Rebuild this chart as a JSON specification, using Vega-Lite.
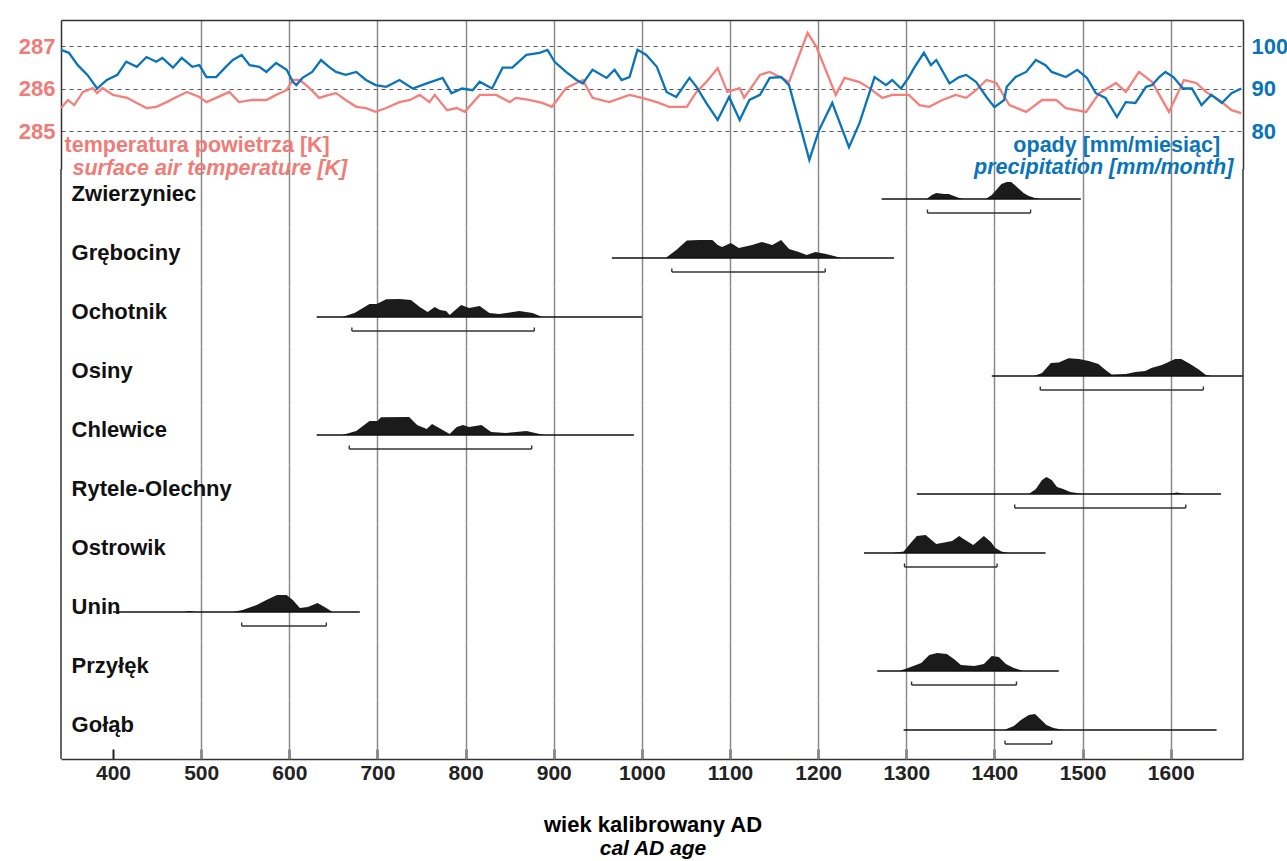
{
  "$schema": "https://vega.github.io/schema/vega-lite/v6.json",
  "padding": {"left": 18, "top": 20, "right": 0, "bottom": 0},
  "background": "white",
  "config": {"font": "Liberation Sans", "view": {"stroke": null}},
  "title": {"text": "wiek kalibrowany AD", "subtitle": "cal AD age", "orient": "bottom", "anchor": "middle", "fontSize": 22, "fontWeight": "bold", "color": "black", "subtitleFontSize": 21, "subtitleFontWeight": "bold", "subtitleFontStyle": "italic", "subtitleColor": "black", "subtitlePadding": 1, "offset": 32},
  "spacing": 0,
  "bounds": "flush",
  "resolve": {"scale": {"x": "independent", "y": "independent"}},
  "datasets": {
    "temperature": [
      {"year":341,"temp":285.54},{"year":349,"temp":285.73},{"year":356,"temp":285.61},{"year":366,"temp":285.92},{"year":377,"temp":286.01},{"year":382,"temp":285.89},{"year":388,"temp":286.01},{"year":400,"temp":285.85},{"year":416,"temp":285.78},{"year":427,"temp":285.66},{"year":438,"temp":285.54},{"year":449,"temp":285.57},{"year":461,"temp":285.68},{"year":472,"temp":285.80},{"year":484,"temp":285.92},{"year":498,"temp":285.80},{"year":506,"temp":285.68},{"year":517,"temp":285.78},{"year":532,"temp":285.92},{"year":543,"temp":285.68},{"year":558,"temp":285.73},{"year":574,"temp":285.73},{"year":585,"temp":285.85},{"year":597,"temp":285.96},{"year":604,"temp":286.20},{"year":612,"temp":286.20},{"year":623,"temp":286.01},{"year":634,"temp":285.78},{"year":645,"temp":285.85},{"year":653,"temp":285.89},{"year":664,"temp":285.73},{"year":676,"temp":285.57},{"year":687,"temp":285.54},{"year":698,"temp":285.45},{"year":710,"temp":285.54},{"year":725,"temp":285.68},{"year":737,"temp":285.73},{"year":748,"temp":285.85},{"year":759,"temp":285.68},{"year":765,"temp":285.85},{"year":779,"temp":285.49},{"year":790,"temp":285.54},{"year":799,"temp":285.45},{"year":816,"temp":285.85},{"year":835,"temp":285.85},{"year":850,"temp":285.68},{"year":857,"temp":285.78},{"year":872,"temp":285.73},{"year":887,"temp":285.66},{"year":898,"temp":285.57},{"year":914,"temp":286.01},{"year":926,"temp":286.13},{"year":933,"temp":286.20},{"year":944,"temp":285.78},{"year":963,"temp":285.68},{"year":986,"temp":285.85},{"year":1000,"temp":285.78},{"year":1017,"temp":285.68},{"year":1031,"temp":285.57},{"year":1051,"temp":285.57},{"year":1062,"temp":285.92},{"year":1073,"temp":286.15},{"year":1086,"temp":286.48},{"year":1097,"temp":285.92},{"year":1111,"temp":286.01},{"year":1116,"temp":285.78},{"year":1134,"temp":286.32},{"year":1145,"temp":286.39},{"year":1157,"temp":286.27},{"year":1167,"temp":286.15},{"year":1188,"temp":287.31},{"year":1198,"temp":286.98},{"year":1220,"temp":285.85},{"year":1230,"temp":286.25},{"year":1247,"temp":286.15},{"year":1258,"temp":286.01},{"year":1273,"temp":285.78},{"year":1284,"temp":285.85},{"year":1303,"temp":285.85},{"year":1315,"temp":285.61},{"year":1326,"temp":285.57},{"year":1341,"temp":285.73},{"year":1356,"temp":285.85},{"year":1368,"temp":285.78},{"year":1379,"temp":285.96},{"year":1391,"temp":286.20},{"year":1402,"temp":286.13},{"year":1417,"temp":285.61},{"year":1436,"temp":285.45},{"year":1454,"temp":285.73},{"year":1470,"temp":285.73},{"year":1481,"temp":285.54},{"year":1504,"temp":285.45},{"year":1519,"temp":285.89},{"year":1538,"temp":286.13},{"year":1549,"temp":285.92},{"year":1564,"temp":286.39},{"year":1579,"temp":286.15},{"year":1598,"temp":285.45},{"year":1615,"temp":286.20},{"year":1629,"temp":286.13},{"year":1640,"temp":285.92},{"year":1655,"temp":285.73},{"year":1669,"temp":285.49},{"year":1680,"temp":285.42}
    ],
    "precipitation": [
      {"year":341,"precip":99.1},{"year":350,"precip":98.4},{"year":360,"precip":95.5},{"year":371,"precip":93.2},{"year":382,"precip":90.0},{"year":393,"precip":92.0},{"year":405,"precip":93.2},{"year":415,"precip":96.3},{"year":427,"precip":95.1},{"year":438,"precip":97.4},{"year":449,"precip":96.3},{"year":456,"precip":97.2},{"year":468,"precip":94.9},{"year":478,"precip":97.2},{"year":490,"precip":95.1},{"year":498,"precip":95.5},{"year":506,"precip":92.7},{"year":517,"precip":92.7},{"year":528,"precip":95.1},{"year":536,"precip":96.7},{"year":546,"precip":97.9},{"year":555,"precip":95.5},{"year":566,"precip":95.1},{"year":574,"precip":93.9},{"year":585,"precip":96.0},{"year":597,"precip":94.4},{"year":604,"precip":91.6},{"year":608,"precip":90.8},{"year":615,"precip":92.5},{"year":626,"precip":93.9},{"year":636,"precip":96.7},{"year":645,"precip":95.1},{"year":653,"precip":93.9},{"year":664,"precip":93.2},{"year":676,"precip":93.9},{"year":687,"precip":92.0},{"year":698,"precip":90.8},{"year":710,"precip":90.4},{"year":725,"precip":92.0},{"year":740,"precip":90.0},{"year":756,"precip":91.2},{"year":774,"precip":92.5},{"year":784,"precip":88.9},{"year":796,"precip":90.0},{"year":808,"precip":89.6},{"year":816,"precip":91.6},{"year":830,"precip":90.0},{"year":842,"precip":94.9},{"year":853,"precip":94.9},{"year":869,"precip":97.9},{"year":884,"precip":98.4},{"year":893,"precip":99.1},{"year":901,"precip":96.3},{"year":914,"precip":93.9},{"year":926,"precip":92.0},{"year":933,"precip":91.2},{"year":944,"precip":94.4},{"year":960,"precip":92.5},{"year":969,"precip":94.4},{"year":977,"precip":92.0},{"year":986,"precip":92.7},{"year":995,"precip":99.1},{"year":1005,"precip":97.9},{"year":1017,"precip":95.1},{"year":1028,"precip":89.2},{"year":1039,"precip":88.0},{"year":1054,"precip":92.5},{"year":1062,"precip":90.4},{"year":1073,"precip":86.6},{"year":1086,"precip":82.6},{"year":1099,"precip":88.0},{"year":1111,"precip":82.6},{"year":1122,"precip":87.3},{"year":1134,"precip":88.5},{"year":1145,"precip":92.5},{"year":1158,"precip":92.7},{"year":1167,"precip":90.8},{"year":1190,"precip":73.2},{"year":1201,"precip":80.2},{"year":1216,"precip":86.6},{"year":1235,"precip":76.2},{"year":1247,"precip":81.9},{"year":1264,"precip":92.7},{"year":1277,"precip":90.8},{"year":1284,"precip":92.0},{"year":1294,"precip":90.0},{"year":1303,"precip":92.7},{"year":1309,"precip":94.9},{"year":1320,"precip":98.4},{"year":1328,"precip":95.5},{"year":1334,"precip":96.7},{"year":1349,"precip":91.2},{"year":1360,"precip":92.7},{"year":1368,"precip":93.2},{"year":1379,"precip":91.6},{"year":1391,"precip":88.0},{"year":1400,"precip":85.6},{"year":1411,"precip":87.3},{"year":1414,"precip":90.4},{"year":1424,"precip":92.7},{"year":1436,"precip":93.9},{"year":1447,"precip":96.7},{"year":1458,"precip":95.5},{"year":1465,"precip":93.9},{"year":1481,"precip":92.7},{"year":1494,"precip":94.4},{"year":1505,"precip":92.5},{"year":1515,"precip":88.9},{"year":1526,"precip":87.8},{"year":1539,"precip":83.3},{"year":1549,"precip":86.8},{"year":1560,"precip":86.6},{"year":1572,"precip":90.4},{"year":1579,"precip":90.8},{"year":1587,"precip":92.7},{"year":1594,"precip":93.9},{"year":1603,"precip":92.7},{"year":1614,"precip":90.0},{"year":1624,"precip":90.0},{"year":1635,"precip":86.1},{"year":1646,"precip":88.5},{"year":1658,"precip":86.6},{"year":1669,"precip":88.9},{"year":1680,"precip":90.0}
    ],
    "radiocarbon": [
      {"site":"Zwierzyniec","start":1272,"end":1498,"lo":1324,"hi":1441},
      {"site":"Grębociny","start":966,"end":1286,"lo":1034,"hi":1208},
      {"site":"Ochotnik","start":631,"end":1000,"lo":671,"hi":878},
      {"site":"Osiny","start":1397,"end":1682,"lo":1452,"hi":1637},
      {"site":"Chlewice","start":631,"end":991,"lo":668,"hi":875},
      {"site":"Rytele-Olechny","start":1312,"end":1657,"lo":1423,"hi":1617},
      {"site":"Ostrowik","start":1252,"end":1458,"lo":1298,"hi":1403},
      {"site":"Unin","start":400,"end":680,"lo":546,"hi":642},
      {"site":"Przyłęk","start":1267,"end":1473,"lo":1306,"hi":1425},
      {"site":"Gołąb","start":1297,"end":1652,"lo":1412,"hi":1465},
      {"site":"Zwierzyniec","year":1323,"p":0},{"site":"Zwierzyniec","year":1329,"p":4},{"site":"Zwierzyniec","year":1334,"p":6},{"site":"Zwierzyniec","year":1343,"p":5},{"site":"Zwierzyniec","year":1348,"p":5},{"site":"Zwierzyniec","year":1354,"p":3},{"site":"Zwierzyniec","year":1360,"p":1},{"site":"Zwierzyniec","year":1365,"p":0},{"site":"Zwierzyniec","year":1390,"p":0},{"site":"Zwierzyniec","year":1397,"p":4},{"site":"Zwierzyniec","year":1403,"p":10},{"site":"Zwierzyniec","year":1408,"p":15},{"site":"Zwierzyniec","year":1414,"p":17},{"site":"Zwierzyniec","year":1419,"p":17},{"site":"Zwierzyniec","year":1423,"p":14},{"site":"Zwierzyniec","year":1428,"p":10},{"site":"Zwierzyniec","year":1433,"p":6},{"site":"Zwierzyniec","year":1439,"p":3},{"site":"Zwierzyniec","year":1446,"p":1},{"site":"Zwierzyniec","year":1452,"p":0},
      {"site":"Grębociny","year":1027,"p":0},{"site":"Grębociny","year":1039,"p":8},{"site":"Grębociny","year":1051,"p":17.5},{"site":"Grębociny","year":1065,"p":18},{"site":"Grębociny","year":1080,"p":18},{"site":"Grębociny","year":1086,"p":13},{"site":"Grębociny","year":1091,"p":11},{"site":"Grębociny","year":1101,"p":15},{"site":"Grębociny","year":1110,"p":10},{"site":"Grębociny","year":1125,"p":13},{"site":"Grębociny","year":1136,"p":16},{"site":"Grębociny","year":1148,"p":13},{"site":"Grębociny","year":1158,"p":18},{"site":"Grębociny","year":1167,"p":9},{"site":"Grębociny","year":1178,"p":6},{"site":"Grębociny","year":1187,"p":3},{"site":"Grębociny","year":1197,"p":6},{"site":"Grębociny","year":1209,"p":4},{"site":"Grębociny","year":1220,"p":1.5},{"site":"Grębociny","year":1227,"p":0},
      {"site":"Ochotnik","year":660,"p":0},{"site":"Ochotnik","year":674,"p":4},{"site":"Ochotnik","year":691,"p":13},{"site":"Ochotnik","year":699,"p":13},{"site":"Ochotnik","year":710,"p":17.7},{"site":"Ochotnik","year":725,"p":18},{"site":"Ochotnik","year":738,"p":17},{"site":"Ochotnik","year":748,"p":10},{"site":"Ochotnik","year":757,"p":5},{"site":"Ochotnik","year":765,"p":10},{"site":"Ochotnik","year":771,"p":7},{"site":"Ochotnik","year":778,"p":6},{"site":"Ochotnik","year":782,"p":2},{"site":"Ochotnik","year":787,"p":6},{"site":"Ochotnik","year":795,"p":12},{"site":"Ochotnik","year":804,"p":9},{"site":"Ochotnik","year":816,"p":11},{"site":"Ochotnik","year":827,"p":4},{"site":"Ochotnik","year":838,"p":3},{"site":"Ochotnik","year":861,"p":6},{"site":"Ochotnik","year":876,"p":4},{"site":"Ochotnik","year":887,"p":0},
      {"site":"Osiny","year":1445,"p":0},{"site":"Osiny","year":1454,"p":3},{"site":"Osiny","year":1464,"p":13},{"site":"Osiny","year":1473,"p":13.5},{"site":"Osiny","year":1484,"p":17.7},{"site":"Osiny","year":1496,"p":17},{"site":"Osiny","year":1507,"p":15},{"site":"Osiny","year":1518,"p":12},{"site":"Osiny","year":1526,"p":6},{"site":"Osiny","year":1533,"p":1.5},{"site":"Osiny","year":1549,"p":2},{"site":"Osiny","year":1560,"p":4},{"site":"Osiny","year":1571,"p":5},{"site":"Osiny","year":1578,"p":8},{"site":"Osiny","year":1590,"p":11},{"site":"Osiny","year":1605,"p":17},{"site":"Osiny","year":1612,"p":17},{"site":"Osiny","year":1622,"p":12},{"site":"Osiny","year":1631,"p":7},{"site":"Osiny","year":1640,"p":1},{"site":"Osiny","year":1646,"p":0},
      {"site":"Chlewice","year":660,"p":0},{"site":"Chlewice","year":676,"p":4},{"site":"Chlewice","year":691,"p":14},{"site":"Chlewice","year":700,"p":14},{"site":"Chlewice","year":704,"p":17.7},{"site":"Chlewice","year":736,"p":18},{"site":"Chlewice","year":745,"p":10},{"site":"Chlewice","year":756,"p":6},{"site":"Chlewice","year":762,"p":11},{"site":"Chlewice","year":772,"p":6},{"site":"Chlewice","year":782,"p":1},{"site":"Chlewice","year":790,"p":8},{"site":"Chlewice","year":797,"p":10},{"site":"Chlewice","year":804,"p":8},{"site":"Chlewice","year":818,"p":10},{"site":"Chlewice","year":829,"p":3},{"site":"Chlewice","year":846,"p":2},{"site":"Chlewice","year":869,"p":4},{"site":"Chlewice","year":884,"p":1},{"site":"Chlewice","year":890,"p":0},
      {"site":"Rytele-Olechny","year":1439,"p":0},{"site":"Rytele-Olechny","year":1447,"p":5},{"site":"Rytele-Olechny","year":1454,"p":14},{"site":"Rytele-Olechny","year":1459,"p":17},{"site":"Rytele-Olechny","year":1465,"p":14},{"site":"Rytele-Olechny","year":1471,"p":7},{"site":"Rytele-Olechny","year":1478,"p":5},{"site":"Rytele-Olechny","year":1486,"p":2},{"site":"Rytele-Olechny","year":1501,"p":0},{"site":"Rytele-Olechny","year":1598,"p":0},{"site":"Rytele-Olechny","year":1607,"p":1.5},{"site":"Rytele-Olechny","year":1616,"p":0},
      {"site":"Ostrowik","year":1284,"p":0},{"site":"Ostrowik","year":1297,"p":1.5},{"site":"Ostrowik","year":1305,"p":10},{"site":"Ostrowik","year":1312,"p":17},{"site":"Ostrowik","year":1322,"p":18},{"site":"Ostrowik","year":1334,"p":9},{"site":"Ostrowik","year":1346,"p":11},{"site":"Ostrowik","year":1352,"p":12},{"site":"Ostrowik","year":1360,"p":17},{"site":"Ostrowik","year":1365,"p":14},{"site":"Ostrowik","year":1376,"p":8},{"site":"Ostrowik","year":1388,"p":17},{"site":"Ostrowik","year":1396,"p":11},{"site":"Ostrowik","year":1401,"p":5},{"site":"Ostrowik","year":1408,"p":1.5},{"site":"Ostrowik","year":1416,"p":0},
      {"site":"Unin","year":480,"p":0},{"site":"Unin","year":487,"p":1},{"site":"Unin","year":494,"p":0},{"site":"Unin","year":536,"p":0},{"site":"Unin","year":547,"p":2},{"site":"Unin","year":563,"p":7},{"site":"Unin","year":574,"p":12},{"site":"Unin","year":586,"p":17},{"site":"Unin","year":597,"p":17},{"site":"Unin","year":604,"p":12},{"site":"Unin","year":612,"p":4},{"site":"Unin","year":621,"p":5},{"site":"Unin","year":632,"p":9},{"site":"Unin","year":642,"p":4},{"site":"Unin","year":649,"p":0},
      {"site":"Przyłęk","year":1292,"p":0},{"site":"Przyłęk","year":1305,"p":4},{"site":"Przyłęk","year":1317,"p":8},{"site":"Przyłęk","year":1326,"p":16},{"site":"Przyłęk","year":1335,"p":18},{"site":"Przyłęk","year":1346,"p":17},{"site":"Przyłęk","year":1354,"p":12},{"site":"Przyłęk","year":1362,"p":6},{"site":"Przyłęk","year":1377,"p":5},{"site":"Przyłęk","year":1388,"p":7},{"site":"Przyłęk","year":1397,"p":15},{"site":"Przyłęk","year":1405,"p":14},{"site":"Przyłęk","year":1413,"p":7},{"site":"Przyłęk","year":1422,"p":3},{"site":"Przyłęk","year":1433,"p":0},
      {"site":"Gołąb","year":1411,"p":0},{"site":"Gołąb","year":1422,"p":4},{"site":"Gołąb","year":1430,"p":10},{"site":"Gołąb","year":1439,"p":15},{"site":"Gołąb","year":1446,"p":16},{"site":"Gołąb","year":1452,"p":11},{"site":"Gołąb","year":1459,"p":5},{"site":"Gołąb","year":1467,"p":2},{"site":"Gołąb","year":1479,"p":0}
    ]
  },
  "vconcat": [
    {
      "width": 1182,
      "height": 149,
      "layer": [
        {
          "layer": [
            {
              "data": {"name": "temperature"},
              "mark": {"type": "line", "color": "#f47f7b", "strokeWidth": 2.3},
              "encoding": {
                "x": {"field": "year", "type": "quantitative", "scale": {"domain": [341, 1682], "nice": false, "zero": false},
                  "axis": {"orient": "top", "values": [500,600,700,800,900,1000,1100,1200,1300,1400,1500,1600], "labels": false, "ticks": false, "domain": true, "domainColor": "#333", "domainWidth": 1.5, "grid": true, "gridColor": "#8a8a8a", "gridWidth": 1.5, "title": null}},
                "y": {"field": "temp", "type": "quantitative", "scale": {"domain": [284.106, 287.612], "nice": false, "zero": false},
                  "axis": {"orient": "left", "values": [285, 286, 287], "grid": true, "gridDash": [4, 4], "gridColor": "#555", "gridWidth": 1, "ticks": false, "domain": true, "domainColor": "#333", "domainWidth": 1.5, "labelColor": "#f07c78", "labelFontSize": 22, "labelFontWeight": "bold", "labelPadding": 6, "title": null}}
              }
            },
            {
              "data": {"values": [{}]},
              "mark": {"type": "text", "align": "left", "baseline": "middle", "fontSize": 21.5, "fontWeight": "bold", "color": "#f07c78"},
              "encoding": {"x": {"datum": 345, "type": "quantitative"}, "y": {"datum": 284.65, "type": "quantitative"}, "text": {"value": "temperatura powietrza [K]"}}
            },
            {
              "data": {"values": [{}]},
              "mark": {"type": "text", "align": "left", "baseline": "middle", "fontSize": 21.5, "fontWeight": "bold", "fontStyle": "italic", "color": "#f07c78"},
              "encoding": {"x": {"datum": 354, "type": "quantitative"}, "y": {"datum": 284.11, "type": "quantitative"}, "text": {"value": "surface air temperature [K]"}}
            }
          ]
        },
        {
          "layer": [
            {
              "data": {"name": "precipitation"},
              "mark": {"type": "line", "color": "#0a74ba", "strokeWidth": 2.3},
              "encoding": {
                "x": {"field": "year", "type": "quantitative"},
                "y": {"field": "precip", "type": "quantitative", "scale": {"domain": [71.06, 106.12], "nice": false, "zero": false},
                  "axis": {"orient": "right", "values": [80, 90, 100], "grid": false, "ticks": false, "domain": true, "domainColor": "#333", "domainWidth": 1.5, "labelColor": "#0a74ba", "labelFontSize": 22, "labelFontWeight": "bold", "labelPadding": 8, "title": null}}
              }
            },
            {
              "data": {"values": [{}]},
              "mark": {"type": "text", "align": "right", "baseline": "middle", "fontSize": 21.5, "fontWeight": "bold", "color": "#0a74ba"},
              "encoding": {"x": {"datum": 1656, "type": "quantitative"}, "y": {"datum": 76.5, "type": "quantitative"}, "text": {"value": "opady [mm/miesiąc]"}}
            },
            {
              "data": {"values": [{}]},
              "mark": {"type": "text", "align": "right", "baseline": "middle", "fontSize": 21.5, "fontWeight": "bold", "fontStyle": "italic", "color": "#0a74ba"},
              "encoding": {"x": {"datum": 1671, "type": "quantitative"}, "y": {"datum": 71.2, "type": "quantitative"}, "text": {"value": "precipitation [mm/month]"}}
            }
          ]
        }
      ],
      "resolve": {"scale": {"y": "independent"}}
    },
    {
      "data": {"name": "radiocarbon"},
      "facet": {"row": {"field": "site", "type": "nominal", "sort": ["Zwierzyniec", "Grębociny", "Ochotnik", "Osiny", "Chlewice", "Rytele-Olechny", "Ostrowik", "Unin", "Przyłęk", "Gołąb"], "header": {"labels": false, "title": null, "labelPadding": 0, "titlePadding": 0}}},
      "spacing": {"row": 0},
      "bounds": "flush",
      "spec": {
        "width": 1182,
        "height": 59,
        "layer": [
          {
            "transform": [{"filter": "isValid(datum.p)"}],
            "mark": {"type": "area", "color": "#1b1b1b", "opacity": 1},
            "encoding": {
              "x": {"field": "year", "type": "quantitative", "scale": {"domain": [341, 1682], "nice": false, "zero": false},
                "axis": {"values": [400,500,600,700,800,900,1000,1100,1200,1300,1400,1500,1600], "format": "d", "grid": true, "gridColor": "#8a8a8a", "gridWidth": 1.5, "gridOpacity": {"condition": {"test": "datum.value === 400", "value": 0}, "value": 1}, "domain": true, "domainColor": "#333", "domainWidth": 1.5, "ticks": true, "tickColor": "#222", "tickWidth": 2, "tickSize": -10, "labelFontSize": 21, "labelFontWeight": "bold", "labelColor": "#222", "labelPadding": 13, "title": null}},
              "y": {"field": "p", "type": "quantitative", "scale": {"domain": [-29, 30], "nice": false, "zero": false}, "axis": null},
              "y2": {"datum": 0}
            }
          },
          {
            "transform": [{"filter": "isValid(datum.start)"}],
            "mark": {"type": "rule", "color": "#111", "strokeWidth": 1.4},
            "encoding": {
              "x": {"field": "start", "type": "quantitative"},
              "x2": {"field": "end"},
              "y": {"datum": 0, "type": "quantitative"}
            }
          },
          {
            "transform": [{"filter": "isValid(datum.start)"}],
            "mark": {"type": "rule", "color": "#333", "strokeWidth": 1.4},
            "encoding": {
              "x": {"field": "lo", "type": "quantitative"},
              "x2": {"field": "hi"},
              "y": {"datum": -14, "type": "quantitative"}
            }
          },
          {
            "transform": [{"filter": "isValid(datum.start)"}],
            "mark": {"type": "rule", "color": "#333", "strokeWidth": 1.4},
            "encoding": {
              "x": {"field": "lo", "type": "quantitative"},
              "y": {"datum": -14, "type": "quantitative"},
              "y2": {"datum": -10.5}
            }
          },
          {
            "transform": [{"filter": "isValid(datum.start)"}],
            "mark": {"type": "rule", "color": "#333", "strokeWidth": 1.4},
            "encoding": {
              "x": {"field": "hi", "type": "quantitative"},
              "y": {"datum": -14, "type": "quantitative"},
              "y2": {"datum": -10.5}
            }
          },
          {
            "transform": [{"filter": "isValid(datum.start)"}],
            "mark": {"type": "rule", "color": "#333", "strokeWidth": 1.5},
            "encoding": {"x": {"datum": 341, "type": "quantitative"}}
          },
          {
            "transform": [{"filter": "isValid(datum.start)"}],
            "mark": {"type": "rule", "color": "#333", "strokeWidth": 1.5},
            "encoding": {"x": {"datum": 1682, "type": "quantitative"}}
          },
          {
            "transform": [{"filter": "isValid(datum.start)"}],
            "mark": {"type": "text", "align": "left", "baseline": "middle", "fontSize": 22, "fontWeight": "bold", "color": "#111"},
            "encoding": {
              "x": {"datum": 353, "type": "quantitative"},
              "y": {"datum": 5.5, "type": "quantitative"},
              "text": {"field": "site", "type": "nominal"}
            }
          }
        ]
      }
    }
  ]
}
